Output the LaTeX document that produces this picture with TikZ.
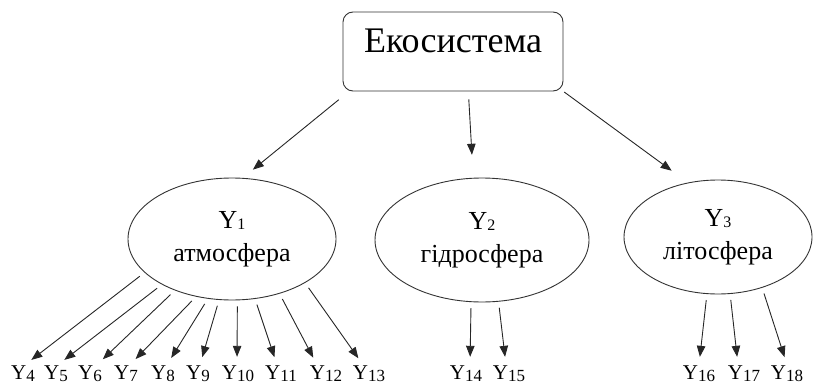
\documentclass[tikz,border=0pt]{standalone}
\usepackage{fontspec}
\setmainfont{Liberation Serif}
\usetikzlibrary{shapes.geometric, arrows.meta}
\tikzset{
  every picture/.style={line width=0.9pt},
  link/.style={draw=black!85, -{Triangle[length=11pt, width=8.5pt]}},
}
% Y with a slightly lowered index, inside the spheres and in the bottom row
\newcommand{\yin}[1]{Y\raisebox{-1pt}{\fontsize{16}{16}\selectfont #1}}
\newcommand{\yout}[1]{Y\raisebox{-2pt}{\fontsize{17}{17}\selectfont #1}}

\begin{document}
\begin{tikzpicture}[
  x=1pt, y=-1pt,
  rootbox/.style={draw=black!80, rounded corners=10pt, minimum width=220pt,
                  inner ysep=0pt, text height=41pt, text depth=38pt,
                  font=\fontsize{36}{36}\selectfont},
  sphere/.style={ellipse, draw=black!80, inner sep=0pt, align=center,
                 font=\fontsize{26}{33}\selectfont},
  var/.style={anchor=base, inner sep=0pt, font=\fontsize{21}{21}\selectfont},
  sublink/.style={link, shorten <=6pt, shorten >=8pt},
]
\useasboundingbox (0,0) rectangle (813,385);

%% ---- root ----
\node[rootbox] (eco) at (453,51.5) {Екосистема};

%% ---- spheres ----
\node[sphere, minimum width=208pt, minimum height=122pt] (atm) at (232,239) {\yin{1}\\атмосфера};
\node[sphere, minimum width=214pt, minimum height=124pt] (hyd) at (482,240) {\yin{2}\\гідросфера};
\node[sphere, minimum width=188pt, minimum height=114pt] (lit) at (718,237) {\yin{3}\\літосфера};

\draw[link, shorten <=13pt, shorten >=13pt] (eco.201.6) -- (atm.80);
\draw[link, shorten <=8pt, shorten >=23pt] (eco.291.5) -- (hyd.98);
\draw[link, shorten <=1pt, shorten >=20pt] (eco.south east) -- (lit.119);

%% ---- indicators: number / x / start angle / end offset ----
\foreach \n/\x/\a/\d in {4/23/201/2, 5/56/213/2, 6/90/222/7, 7/126/238/4,
    8/163/248/4, 9/198/258/2, 10/238/275/-1, 11/281/291/-4,
    12/326/311/-9, 13/369/329/-6}{
  \node[var] (y\n) at (\x,379) {\yout{\n}};
  \draw[sublink] (atm.\a) -- ([xshift=\d]y\n.north);
}
\foreach \n/\x/\a/\d in {14/466/260/4, 15/509/285/-3}{
  \node[var] (y\n) at (\x,379) {\yout{\n}};
  \draw[sublink] (hyd.\a) -- ([xshift=\d]y\n.north);
}
\foreach \n/\x/\a/\d in {16/699/259/0, 17/744/282/-6, 18/787/311/0}{
  \node[var] (y\n) at (\x,379) {\yout{\n}};
  \draw[sublink] (lit.\a) -- ([xshift=\d]y\n.north);
}
\end{tikzpicture}
\end{document}
